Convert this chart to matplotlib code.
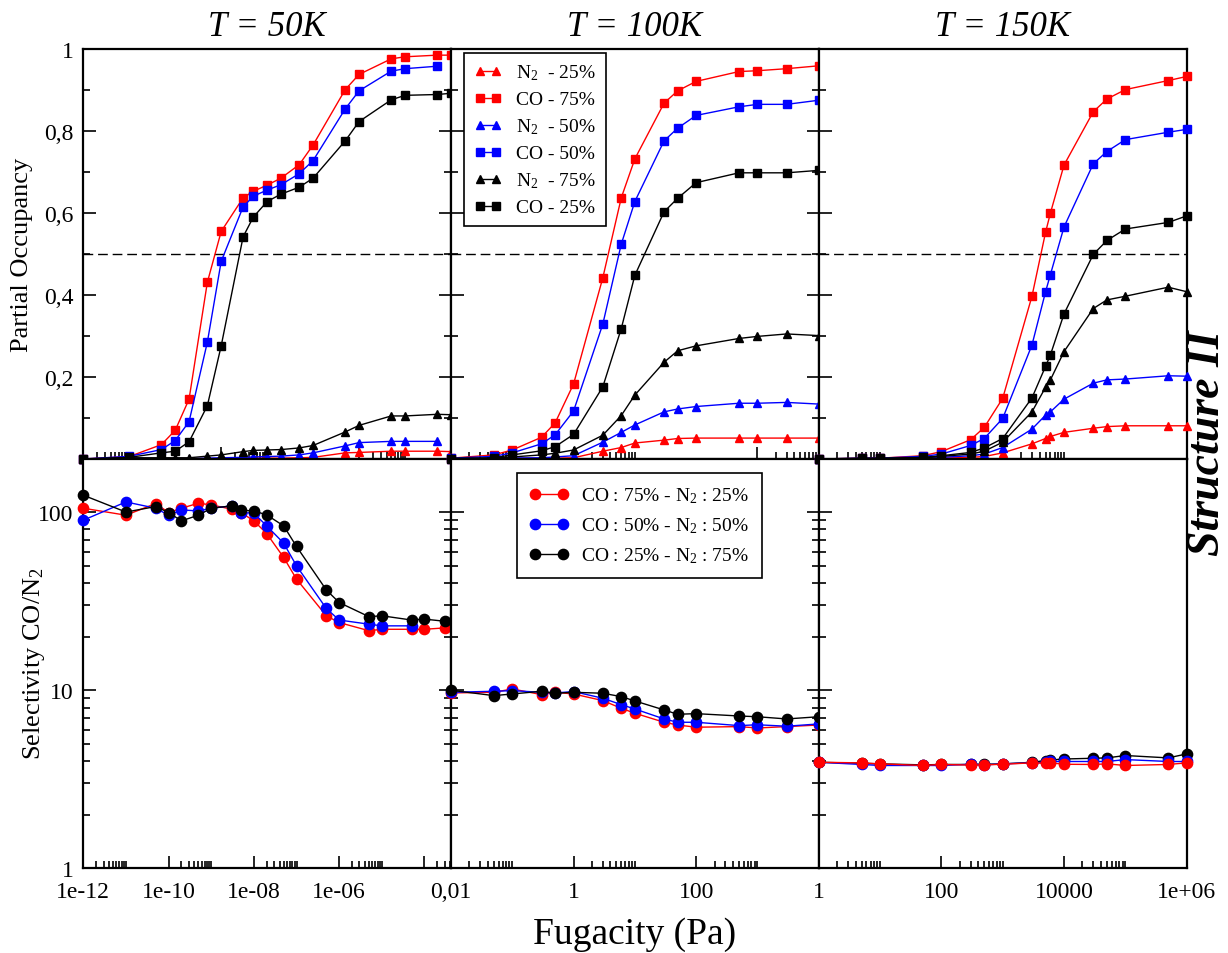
import matplotlib
matplotlib.use('Agg')
import matplotlib.pyplot as plt
from matplotlib.ticker import FixedLocator, FixedFormatter, NullFormatter, LogLocator

plt.rcParams['font.family'] = ['Liberation Serif', 'DejaVu Serif']
plt.rcParams['mathtext.fontset'] = 'custom'
plt.rcParams['mathtext.rm'] = 'Liberation Serif'
plt.rcParams['mathtext.it'] = 'Liberation Serif:italic'
plt.rcParams['mathtext.bf'] = 'Liberation Serif:bold'

# ---------------- data ----------------
# T = 50 K  (fugacity points; the occupancy panel uses the first 19)
x50 = [1e-12, 1e-11, 5e-11, 1e-10, 2e-10, 5e-10, 1e-9, 3e-9, 5e-9, 1e-8, 2e-8, 5e-8,
       1e-7, 5e-7, 1e-6, 5e-6, 1e-5, 5e-5, 1e-4, 3e-4]
n2_25_50 = [0, 0.001, 0.001, 0.001, 0.001, 0.001, 0.001, 0.002, 0.002, 0.002, 0.002, 0.003,
            0.004, 0.015, 0.016, 0.019, 0.019, 0.019, 0.018]
co_75_50 = [0, 0.006, 0.035, 0.070, 0.146, 0.431, 0.555, 0.637, 0.653, 0.668, 0.685, 0.718,
            0.766, 0.901, 0.938, 0.976, 0.981, 0.985, 0.985]
n2_50_50 = [0, 0.001, 0.001, 0.001, 0.001, 0.002, 0.003, 0.004, 0.005, 0.006, 0.007, 0.010,
            0.015, 0.032, 0.040, 0.043, 0.043, 0.043]
co_50_50 = [0, 0.0065, 0.023, 0.045, 0.091, 0.285, 0.482, 0.615, 0.641, 0.656, 0.669, 0.696,
            0.728, 0.854, 0.898, 0.946, 0.952, 0.958]
n2_75_50 = [0, 0.003, 0.003, 0.003, 0.003, 0.007, 0.010, 0.018, 0.021, 0.022, 0.023, 0.027,
            0.033, 0.066, 0.082, 0.105, 0.105, 0.109, 0.108]
co_25_50 = [0, 0.004, 0.015, 0.019, 0.042, 0.130, 0.276, 0.542, 0.590, 0.628, 0.646, 0.663,
            0.685, 0.776, 0.823, 0.876, 0.887, 0.889, 0.892]
sel_75_50 = [105.3, 96.2, 111.9, 99.6, 105.3, 112.3, 110.0, 104.0, 99.6, 89.4, 75.9, 55.7,
             42.1, 26.2, 24.0, 21.6, 22.0, 22.0, 22.0, 22.4]
sel_50_50 = [90.2, 114.2, 105.3, 96.2, 103.0, 101.7, 105.3, 108.5, 99.6, 98.7, 83.8, 67.0,
             50.0, 28.8, 24.8, 23.5, 23.0, 23.0]
sel_25_50 = [124.6, 100.2, 107.6, 99.6, 89.4, 96.2, 105.3, 108.5, 102.6, 101.7, 96.6, 83.8,
             64.2, 36.6, 31.1, 25.9, 26.2, 24.8, 25.1, 24.4]

# T = 100 K
x100 = [0.01, 0.05, 0.1, 0.3, 0.5, 1, 3, 6, 10, 30, 50, 100, 500, 1000, 3000, 10000]
n2_25_100 = [0, 0.001, 0.001, 0.002, 0.002, 0.003, 0.019, 0.028, 0.039, 0.046, 0.050, 0.051,
             0.051, 0.051, 0.051, 0.051]
co_75_100 = [0.002, 0.010, 0.022, 0.053, 0.088, 0.183, 0.442, 0.637, 0.732, 0.868, 0.898,
             0.921, 0.945, 0.947, 0.952, 0.959]
n2_50_100 = [0, 0.002, 0.0024, 0.003, 0.005, 0.008, 0.041, 0.065, 0.083, 0.115, 0.122, 0.128,
             0.136, 0.136, 0.138, 0.134]
co_50_100 = [0.002, 0.0065, 0.015, 0.037, 0.059, 0.117, 0.329, 0.524, 0.628, 0.776, 0.807,
             0.838, 0.859, 0.865, 0.865, 0.875]
n2_75_100 = [0.002, 0.002, 0.005, 0.010, 0.014, 0.022, 0.058, 0.106, 0.156, 0.236, 0.264,
             0.276, 0.294, 0.299, 0.305, 0.301]
co_25_100 = [0, 0.003, 0.010, 0.020, 0.030, 0.060, 0.176, 0.318, 0.448, 0.603, 0.636, 0.674,
             0.698, 0.698, 0.698, 0.704]
sel_75_100 = [9.66, 9.74, 10.17, 9.45, 9.74, 9.53, 8.75, 7.92, 7.43, 6.61, 6.38, 6.20, 6.25,
              6.14, 6.25, 6.38]
sel_50_100 = [9.74, 9.87, 9.95, 9.74, 9.66, 9.83, 9.02, 8.30, 7.85, 6.90, 6.61, 6.61, 6.33,
              6.40, 6.28, 6.47]
sel_25_100 = [10.0, 9.33, 9.53, 9.87, 9.62, 9.74, 9.62, 9.21, 8.71, 7.75, 7.33, 7.39, 7.17,
              7.10, 6.90, 7.10]

# T = 150 K
x150 = [1, 5, 10, 50, 100, 300, 500, 1000, 3000, 5000, 6000, 10000, 30000, 50000, 1e5, 5e5, 1e6]
n2_25_150 = [0, 0, 0, 0.001, 0.002, 0.004, 0.006, 0.015, 0.037, 0.050, 0.055, 0.065, 0.075,
             0.079, 0.081, 0.081, 0.081]
co_75_150 = [0, 0.002, 0.002, 0.008, 0.018, 0.047, 0.077, 0.148, 0.397, 0.553, 0.600, 0.717,
             0.847, 0.878, 0.901, 0.923, 0.933]
n2_50_150 = [0, 0.001, 0.001, 0.001, 0.004, 0.008, 0.012, 0.028, 0.073, 0.107, 0.115, 0.146,
             0.185, 0.193, 0.195, 0.203, 0.202]
co_50_150 = [0, 0.002, 0.002, 0.0065, 0.012, 0.033, 0.050, 0.099, 0.278, 0.408, 0.450, 0.566,
             0.720, 0.750, 0.779, 0.797, 0.804]
n2_75_150 = [0, 0.001, 0.001, 0.002, 0.0065, 0.012, 0.019, 0.041, 0.115, 0.175, 0.193, 0.262,
             0.367, 0.388, 0.397, 0.419, 0.408]
co_25_150 = [0, 0.002, 0.002, 0.004, 0.008, 0.016, 0.027, 0.050, 0.149, 0.226, 0.254, 0.354,
             0.499, 0.533, 0.561, 0.577, 0.593]
sel_75_150 = [3.94, 3.91, 3.86, 3.78, 3.83, 3.80, 3.81, 3.84, 3.91, 3.89, 3.91, 3.84, 3.83,
              3.86, 3.78, 3.83, 3.91]
sel_50_150 = [3.94, 3.83, 3.78, 3.78, 3.78, 3.84, 3.81, 3.86, 3.91, 3.94, 3.98, 3.98, 3.98,
              3.98, 4.08, 3.98, 3.98]
sel_25_150 = [3.94, 3.89, 3.86, 3.81, 3.83, 3.83, 3.84, 3.86, 3.94, 4.03, 4.06, 4.11, 4.15,
              4.17, 4.30, 4.17, 4.39]

titles = ['T = 50K', 'T = 100K', 'T = 150K']
occ_labels = ['N$_2$  - 25%', 'CO - 75%', 'N$_2$  - 50%', 'CO - 50%', 'N$_2$  - 75%', 'CO - 25%']
sel_labels = ['CO : 75% - N$_2$ : 25%', 'CO : 50% - N$_2$ : 50%', 'CO : 25% - N$_2$ : 75%']

top_xlims = [(1e-12, 1e-4), (1e-2, 1e4), (1, 1e6)]
bot_xlims = [(1e-12, 4.2e-4), (1e-2, 1e4), (1, 1e6)]
bot_major = [[1e-12, 1e-10, 1e-8, 1e-6, 1e-4], [1e-2, 1, 1e2, 1e4], [1, 1e2, 1e4, 1e6]]
bot_major_lbl = [['1e-12', '1e-10', '1e-08', '1e-06', ''], ['0,01', '1', '100', ''],
                 ['1', '100', '10000', '1e+06']]
top_major = [[1e-12, 1e-9, 1e-6], [1e-2, 1, 1e3], [1, 1e3, 1e6]]

top_sets = [
    (x50, [n2_25_50, co_75_50, n2_50_50, co_50_50, n2_75_50, co_25_50]),
    (x100, [n2_25_100, co_75_100, n2_50_100, co_50_100, n2_75_100, co_25_100]),
    (x150, [n2_25_150, co_75_150, n2_50_150, co_50_150, n2_75_150, co_25_150]),
]
bot_sets = [
    (x50, [sel_75_50, sel_50_50, sel_25_50]),
    (x100, [sel_75_100, sel_50_100, sel_25_100]),
    (x150, [sel_75_150, sel_50_150, sel_25_150]),
]
top_styles = [('red', '^'), ('red', 's'), ('blue', '^'), ('blue', 's'), ('black', '^'), ('black', 's')]
sel_colors = ['red', 'blue', 'black']

# ---------------- layout ----------------
W, H = 1228, 954
fig = plt.figure(figsize=(W / 100, H / 100), dpi=100)

def ax_at(x0, y0, x1, y1):
    return fig.add_axes([x0 / W, 1 - y1 / H, (x1 - x0) / W, (y1 - y0) / H])

cols = [(83.3, 451.0), (451.0, 818.7), (818.7, 1186.7)]
TICKFS = 17
SPW = 1.6

def minor_from(majors, lim):
    out = []
    for m in majors:
        for k in range(2, 11):
            v = m * k
            if lim[0] < v < lim[1] and v not in majors:
                out.append(v)
    return out

top_axes, bot_axes = [], []
for i, (x0, x1) in enumerate(cols):
    # ---- top panel ----
    ax = ax_at(x0, 50, x1, 460)
    xs, series = top_sets[i]
    for (c, m), ys, lab in zip(top_styles, series, occ_labels):
        ax.plot(xs[:len(ys)], ys, color=c, marker=m, ms=6.2 if m == '^' else 5.6,
                mec=c, lw=1.0, clip_on=False, label=lab, zorder=3)
    ax.axhline(0.5, color='black', lw=1.0, dashes=(7, 3.5), zorder=2)
    ax.set_xscale('log')
    ax.set_xlim(*top_xlims[i])
    ax.set_ylim(0, 1)
    ax.xaxis.set_major_locator(FixedLocator(top_major[i]))
    ax.xaxis.set_minor_locator(FixedLocator(minor_from(top_major[i], top_xlims[i])))
    ax.xaxis.set_major_formatter(NullFormatter())
    ax.xaxis.set_minor_formatter(NullFormatter())
    ax.yaxis.set_major_locator(FixedLocator([0, 0.2, 0.4, 0.6, 0.8, 1.0]))
    ax.yaxis.set_minor_locator(FixedLocator([0.1, 0.3, 0.5, 0.7, 0.9]))
    if i == 0:
        ax.yaxis.set_major_formatter(FixedFormatter(['', '0,2', '0,4', '0,6', '0,8', '1']))
    else:
        ax.yaxis.set_major_formatter(NullFormatter())
    ax.tick_params(which='both', direction='in', top=False, bottom=True, left=True,
                   right=(i < 2), labelsize=TICKFS, width=1.2, pad=7)
    ax.tick_params(which='major', length=9)
    ax.tick_params(which='minor', length=5)
    for s in ax.spines.values():
        s.set_linewidth(SPW)
    ax.set_title(titles[i], fontsize=25, fontstyle='italic', pad=10)
    top_axes.append(ax)

    # ---- bottom panel ----
    bx = ax_at(x0, 460, x1, 869.3)
    xs, series = bot_sets[i]
    order = [0, 1, 2] if i < 2 else [2, 1, 0]
    handles = [None] * 3
    for j in order:
        ys = series[j]
        h, = bx.plot(xs[:len(ys)], ys, color=sel_colors[j], marker='o', ms=7.4,
                     mec=sel_colors[j], lw=1.0, clip_on=False, label=sel_labels[j], zorder=3)
        handles[j] = h
    bx.set_xscale('log')
    bx.set_yscale('log')
    bx.set_xlim(*bot_xlims[i])
    bx.set_ylim(1, 199)
    bx.xaxis.set_major_locator(FixedLocator(bot_major[i]))
    bx.xaxis.set_minor_locator(FixedLocator(minor_from(bot_major[i], bot_xlims[i])))
    bx.xaxis.set_major_formatter(FixedFormatter(bot_major_lbl[i]))
    bx.xaxis.set_minor_formatter(NullFormatter())
    bx.yaxis.set_major_locator(FixedLocator([1, 10, 100]))
    bx.yaxis.set_minor_locator(LogLocator(base=10, subs=[2, 3, 4, 5, 6, 7, 8, 9]))
    bx.yaxis.set_minor_formatter(NullFormatter())
    if i == 0:
        bx.yaxis.set_major_formatter(FixedFormatter(['1', '10', '100']))
    else:
        bx.yaxis.set_major_formatter(NullFormatter())
    bx.tick_params(which='both', direction='in', top=False, bottom=True, left=True,
                   right=(i < 2), labelsize=TICKFS, width=1.2, pad=7)
    bx.tick_params(which='major', length=9)
    bx.tick_params(which='minor', length=5)
    bx.tick_params(axis='x', pad=9)
    for s in bx.spines.values():
        s.set_linewidth(SPW)
    bot_axes.append((bx, handles))

# legends
leg1 = top_axes[1].legend(loc='upper left', bbox_to_anchor=(464 / W, 1 - 54 / H),
                          bbox_transform=fig.transFigure, borderaxespad=0, fontsize=14,
                          numpoints=2, handlelength=1.45, handletextpad=0.75,
                          labelspacing=0.43, borderpad=0.5, fancybox=False, framealpha=1,
                          edgecolor='black')
leg1.get_frame().set_linewidth(1.2)
bx1, h1 = bot_axes[1]
leg2 = bx1.legend(handles=h1, loc='upper left', bbox_to_anchor=(517 / W, 1 - 474 / H),
                  bbox_transform=fig.transFigure, borderaxespad=0, fontsize=14,
                  numpoints=2, handlelength=2.0, handletextpad=0.65,
                  labelspacing=0.53, borderpad=0.65, fancybox=False, framealpha=1,
                  edgecolor='black')
leg2.get_frame().set_linewidth(1.2)

# axis labels
fig.text(22 / W, 1 - 255 / H, 'Partial Occupancy', rotation=90, fontsize=19,
         ha='center', va='center')
fig.text(34 / W, 1 - 664 / H, 'Selectivity CO/N$_2$', rotation=90, fontsize=19,
         ha='center', va='center')
fig.text(635 / W, 1 - 935 / H, 'Fugacity (Pa)', fontsize=27, ha='center', va='center')
fig.text(1208 / W, 1 - 443 / H, 'Structure II', rotation=90, fontsize=33,
         fontweight='bold', fontstyle='italic', ha='center', va='center')

fig.savefig('out.png', dpi=100)
